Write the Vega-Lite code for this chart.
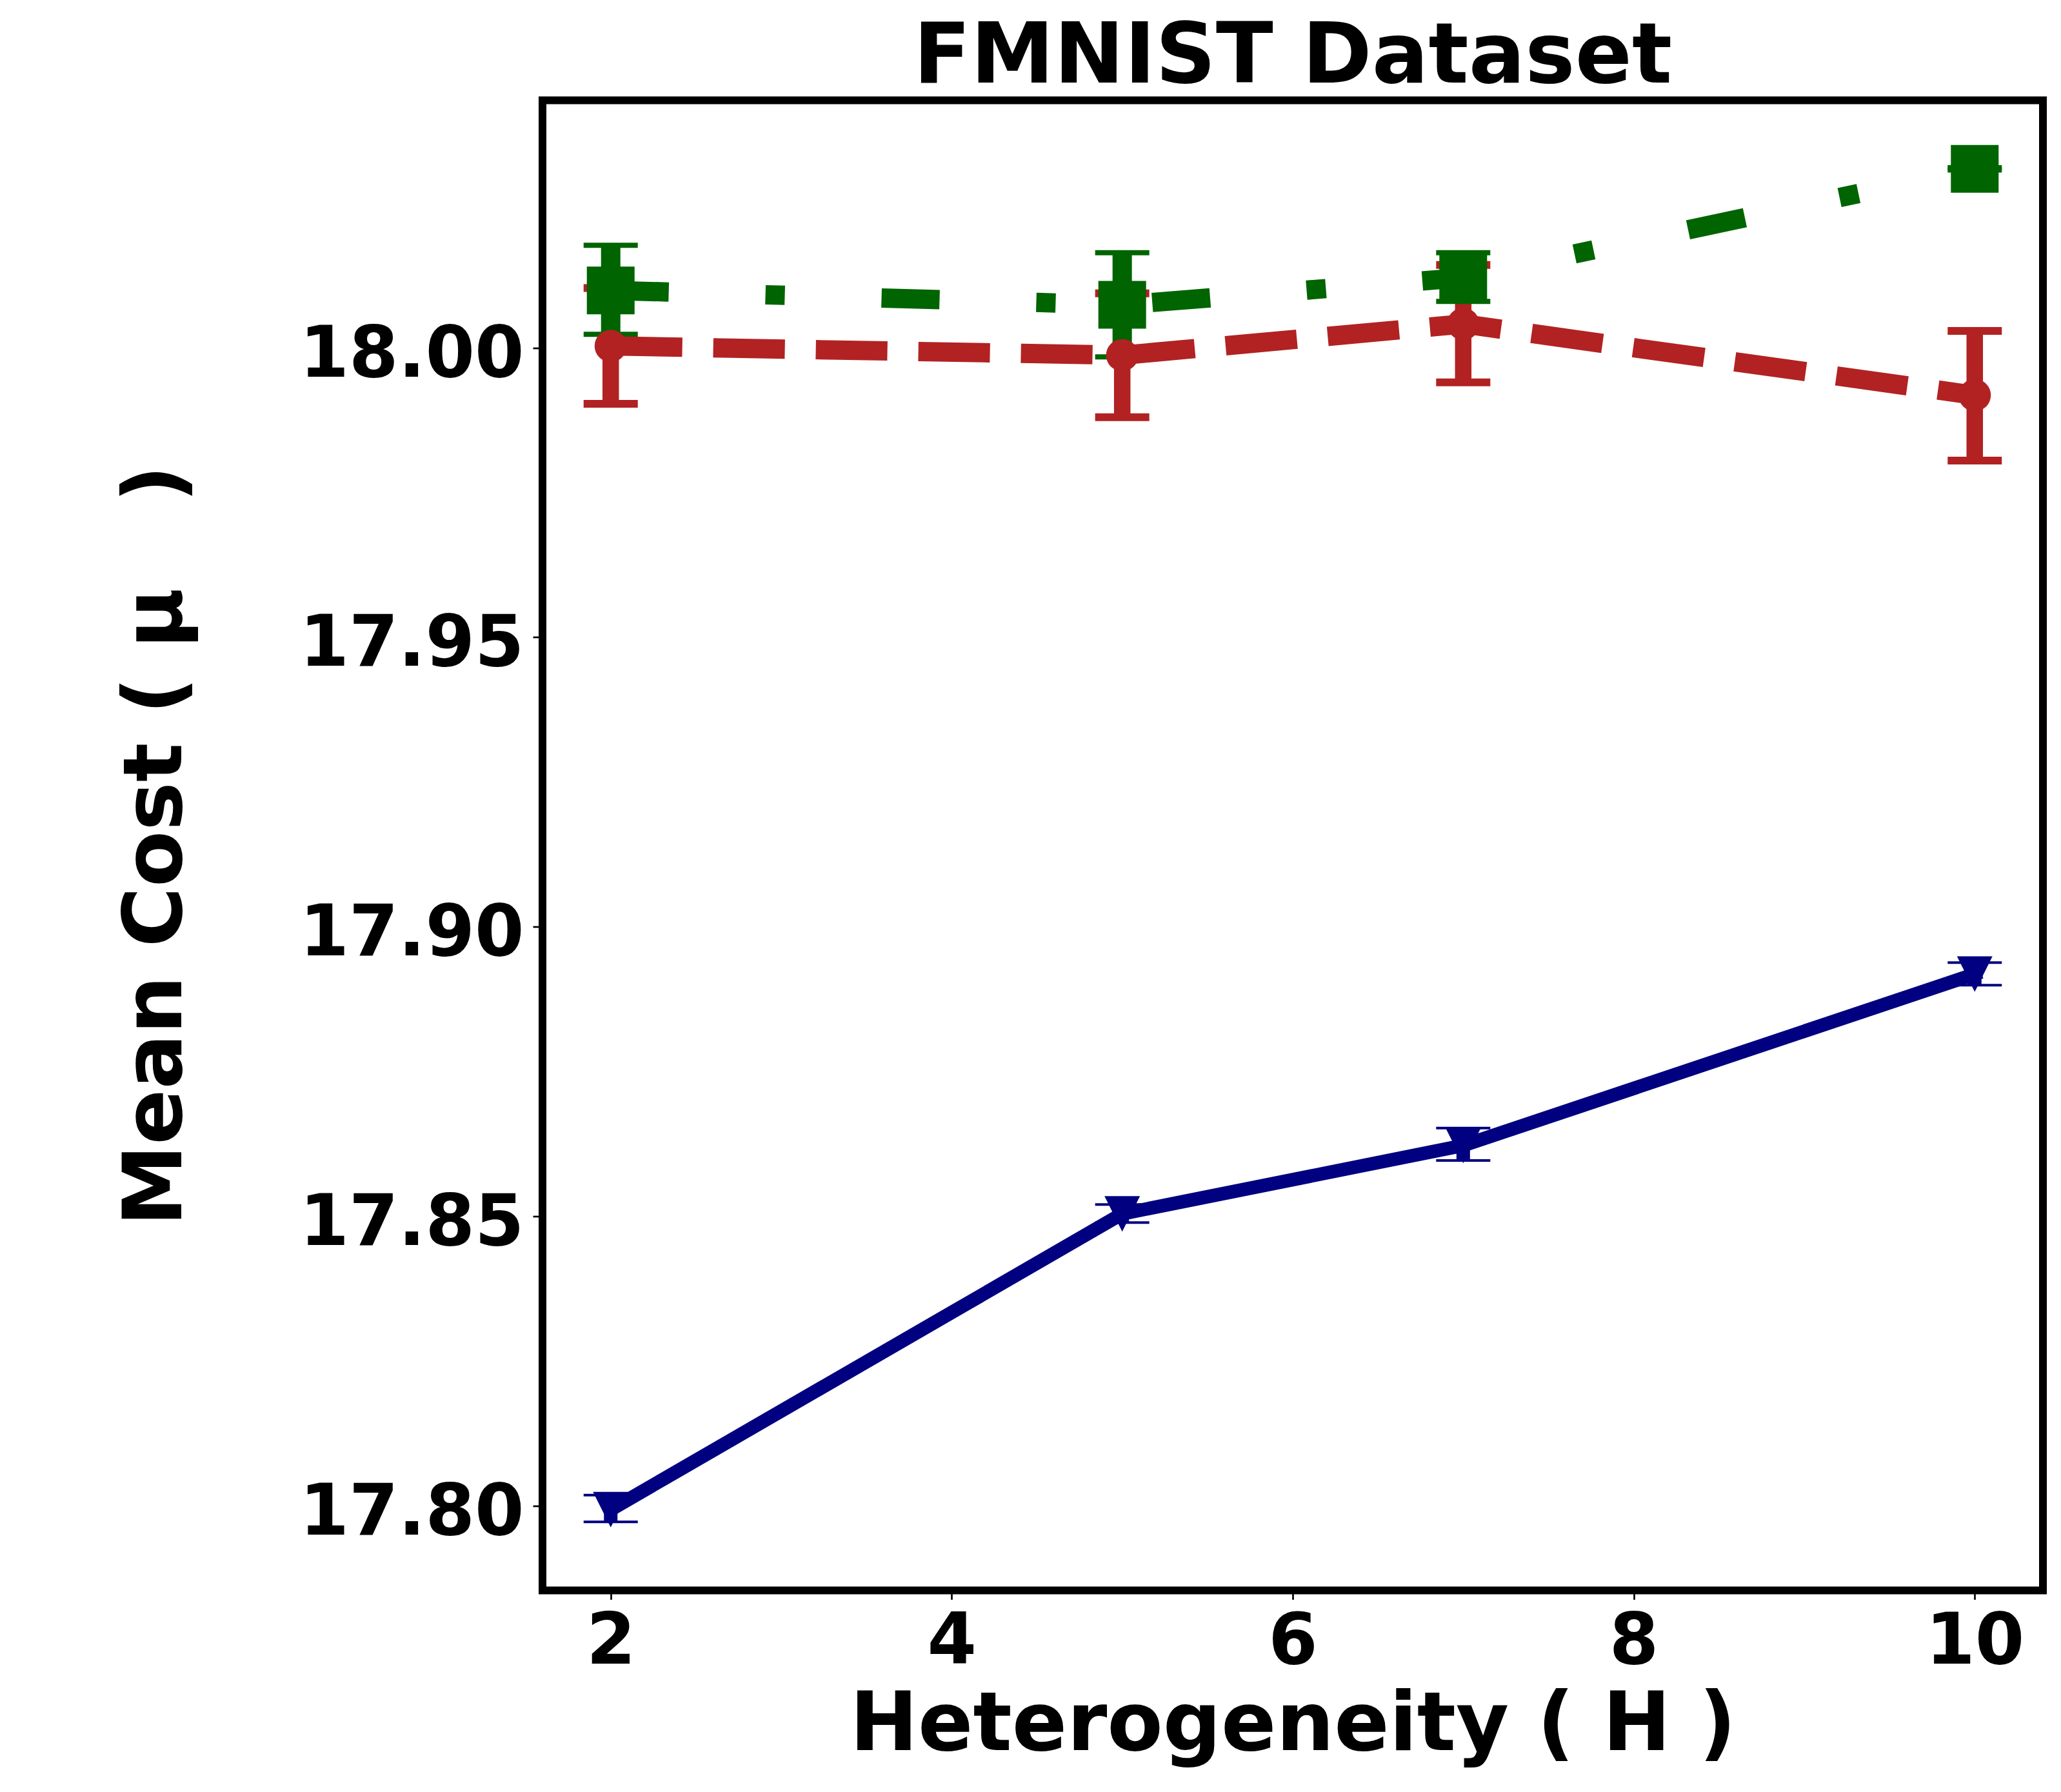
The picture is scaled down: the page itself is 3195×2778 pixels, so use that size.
{
  "$schema": "https://vega.github.io/schema/vega-lite/v6.json",
  "width": 2326,
  "height": 2310,
  "autosize": {"type": "none"},
  "padding": {"left": 841, "top": 155.5, "right": 28, "bottom": 312.5},
  "background": "white",
  "title": {
    "text": "FMNIST Dataset",
    "font": "DejaVu Sans",
    "fontSize": 130,
    "fontWeight": "bold",
    "color": "black",
    "anchor": "middle",
    "frame": "group",
    "baseline": "alphabetic",
    "offset": 25.5,
    "dy": 128
  },
  "data": {
    "values": [
      {"series": "A", "h": 2, "mean": 17.7993, "lo": 17.7972, "hi": 17.8018},
      {"series": "A", "h": 5, "mean": 17.8504, "lo": 17.8489, "hi": 17.8520},
      {"series": "A", "h": 7, "mean": 17.8622, "lo": 17.8596, "hi": 17.8652},
      {"series": "A", "h": 10, "mean": 17.8918, "lo": 17.8899, "hi": 17.8938},
      {"series": "B", "h": 2, "mean": 18.0003, "lo": 17.9903, "hi": 18.0103},
      {"series": "B", "h": 5, "mean": 17.9987, "lo": 17.9880, "hi": 18.0094},
      {"series": "B", "h": 7, "mean": 18.0041, "lo": 17.9940, "hi": 18.0143},
      {"series": "B", "h": 10, "mean": 17.9918, "lo": 17.9805, "hi": 18.0029},
      {"series": "C", "h": 2, "mean": 18.0099, "lo": 18.0023, "hi": 18.0177},
      {"series": "C", "h": 5, "mean": 18.0074, "lo": 17.9984, "hi": 18.0164},
      {"series": "C", "h": 7, "mean": 18.0121, "lo": 18.0080, "hi": 18.0164},
      {"series": "C", "h": 10, "mean": 18.0309, "lo": 18.0307, "hi": 18.0311}
    ]
  },
  "encoding": {
    "x": {
      "field": "h",
      "type": "quantitative",
      "scale": {"domain": [1.6, 10.4], "nice": false, "zero": false},
      "axis": {
        "values": [2, 4, 6, 8, 10],
        "format": "d",
        "title": "Heterogeneity ( H )",
        "titleFont": "DejaVu Sans",
        "titleFontSize": 126,
        "titleFontWeight": "bold",
        "titleColor": "black",
        "titleX": 1163,
        "titleY": 247,
        "titleAlign": "center",
        "titleBaseline": "alphabetic",
        "labelFont": "DejaVu Sans",
        "labelFontSize": 110,
        "labelFontWeight": "bold",
        "labelColor": "black",
        "labelBaseline": "alphabetic",
        "labelPadding": 98.5,
        "labelLimit": 0,
        "labelFlush": false,
        "labelOverlap": false,
        "domain": false,
        "grid": false,
        "tickSize": 14,
        "tickWidth": 2.7,
        "tickColor": "black"
      }
    }
  },
  "layer": [
    {
      "mark": {"type": "rule"},
      "encoding": {
        "y": {"field": "lo", "type": "quantitative", "scale": {"domain": [17.78535, 18.04273], "nice": false, "zero": false}},
        "y2": {"field": "hi"},
        "color": {"field": "series", "type": "nominal", "scale": {"domain": ["A", "B", "C"], "range": ["#000080", "#b22222", "#006400"]}, "legend": null},
        "strokeWidth": {"field": "series", "type": "nominal", "scale": {"domain": ["A", "B", "C"], "range": [21, 30, 30]}, "legend": null}
      }
    },
    {
      "transform": [{"filter": "datum.series === 'A'"}, {"fold": ["lo", "hi"]}],
      "mark": {"type": "tick", "orient": "horizontal", "size": 84, "thickness": 4, "color": "#000080", "opacity": 1},
      "encoding": {
        "y": {"field": "value", "type": "quantitative", "scale": {"domain": [17.78535, 18.04273], "nice": false, "zero": false}}
      }
    },
    {
      "transform": [{"filter": "datum.series === 'B'"}, {"fold": ["lo", "hi"]}],
      "mark": {"type": "tick", "orient": "horizontal", "size": 84, "thickness": 12, "color": "#b22222", "opacity": 1},
      "encoding": {
        "y": {"field": "value", "type": "quantitative", "scale": {"domain": [17.78535, 18.04273], "nice": false, "zero": false}}
      }
    },
    {
      "transform": [{"filter": "datum.series === 'C'"}, {"fold": ["lo", "hi"]}],
      "mark": {"type": "tick", "orient": "horizontal", "size": 84, "thickness": 8, "color": "#006400", "opacity": 1},
      "encoding": {
        "y": {"field": "value", "type": "quantitative", "scale": {"domain": [17.78535, 18.04273], "nice": false, "zero": false}}
      }
    },
    {
      "transform": [{"filter": "datum.series === 'A'"}],
      "mark": {"type": "line", "color": "#000080", "strokeWidth": 21, "strokeCap": "square", "strokeJoin": "round"},
      "encoding": {
        "y": {
          "field": "mean",
          "type": "quantitative",
          "scale": {"domain": [17.78535, 18.04273], "nice": false, "zero": false},
          "axis": {
            "values": [17.8, 17.85, 17.9, 17.95, 18.0],
            "format": ".2f",
            "title": "Mean Cost ( μ\u00a0\u00a0\u00a0)",
            "titleFont": "DejaVu Sans",
            "titleFontSize": 127,
            "titleFontWeight": "bold",
            "titleColor": "black",
            "titleX": -561,
            "titleY": 1155,
            "titleAngle": 270,
            "titleAlign": "center",
            "titleBaseline": "alphabetic",
            "titleLimit": 0,
            "labelFont": "DejaVu Sans",
            "labelFontSize": 110,
            "labelFontWeight": "bold",
            "labelColor": "black",
            "labelAlign": "right",
            "labelBaseline": "alphabetic",
            "labelOffset": 44,
            "labelPadding": 14,
            "labelLimit": 0,
            "labelFlush": false,
            "labelOverlap": false,
            "domain": false,
            "grid": false,
            "tickSize": 15,
            "tickWidth": 2.7,
            "tickColor": "black"
          }
        }
      }
    },
    {
      "transform": [{"filter": "datum.series === 'A'"}],
      "mark": {"type": "point", "filled": true, "shape": "M-1,-1L1,-1L0,1Z", "size": 3025, "color": "#000080", "opacity": 1, "strokeWidth": 0},
      "encoding": {
        "y": {"field": "mean", "type": "quantitative", "scale": {"domain": [17.78535, 18.04273], "nice": false, "zero": false}}
      }
    },
    {
      "transform": [{"filter": "datum.series === 'B'"}],
      "mark": {"type": "line", "color": "#b22222", "strokeWidth": 30, "strokeDash": [111, 48], "strokeCap": "butt", "strokeJoin": "round"},
      "encoding": {
        "y": {"field": "mean", "type": "quantitative", "scale": {"domain": [17.78535, 18.04273], "nice": false, "zero": false}}
      }
    },
    {
      "transform": [{"filter": "datum.series === 'B'"}],
      "mark": {"type": "point", "filled": true, "shape": "circle", "size": 2500, "color": "#b22222", "opacity": 1, "strokeWidth": 0},
      "encoding": {
        "y": {"field": "mean", "type": "quantitative", "scale": {"domain": [17.78535, 18.04273], "nice": false, "zero": false}}
      }
    },
    {
      "transform": [{"filter": "datum.series === 'C'"}],
      "mark": {"type": "line", "color": "#006400", "strokeWidth": 30, "strokeDash": [90, 150, 30, 150], "strokeCap": "butt", "strokeJoin": "round"},
      "encoding": {
        "y": {"field": "mean", "type": "quantitative", "scale": {"domain": [17.78535, 18.04273], "nice": false, "zero": false}}
      }
    },
    {
      "transform": [{"filter": "datum.series === 'C'"}],
      "mark": {"type": "point", "filled": true, "shape": "square", "size": 5476, "color": "#006400", "opacity": 1, "strokeWidth": 0},
      "encoding": {
        "y": {"field": "mean", "type": "quantitative", "scale": {"domain": [17.78535, 18.04273], "nice": false, "zero": false}}
      }
    }
  ],
  "config": {
    "view": {"stroke": "black", "strokeWidth": 12},
    "font": "DejaVu Sans"
  }
}
